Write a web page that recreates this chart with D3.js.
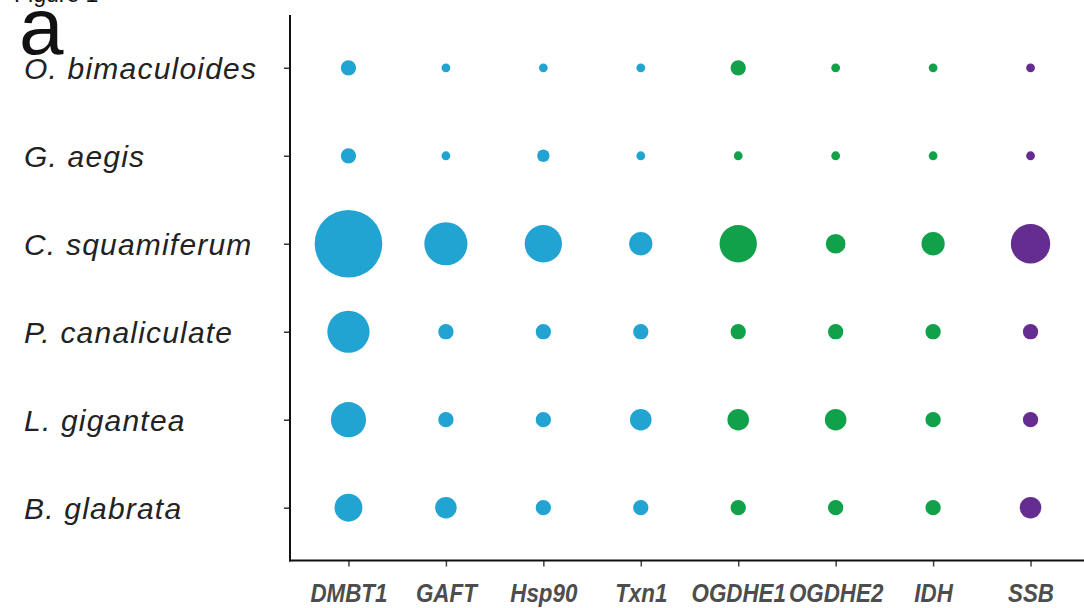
<!DOCTYPE html>
<html>
<head>
<meta charset="utf-8">
<script src="https://cdn.jsdelivr.net/npm/d3@7"></script>
<style>
  html, body { margin: 0; padding: 0; background: #fff; }
  svg { display: block; }
</style>
</head>
<body>
<svg id="chart" width="1084" height="608"></svg>
<script>
// Genes (columns) and species (rows)
const genes = ["DMBT1", "GAFT", "Hsp90", "Txn1", "OGDHE1", "OGDHE2", "IDH", "SSB"];
const geneGroup = ["blue", "blue", "blue", "blue", "green", "green", "green", "purple"];
const species = ["O. bimaculoides", "G. aegis", "C. squamiferum", "P. canaliculate", "L. gigantea", "B. glabrata"];

// Values per species, in gene order
const oBimaculoides  = [3, 1, 1, 1, 3, 1, 1, 1];
const gAegis         = [3, 1, 2, 1, 1, 1, 1, 1];
const cSquamiferum   = [59, 24, 18, 7, 18, 5, 7, 20];
const pCanaliculate  = [23, 3, 3, 3, 3, 3, 3, 3];
const lGigantea      = [16, 3, 3, 6, 6, 6, 3, 3];
const bGlabrata      = [10, 6, 3, 3, 3, 3, 3, 6];
const rows = [oBimaculoides, gAegis, cSquamiferum, pCanaliculate, lGigantea, bGlabrata];

const groupColor = { blue: "#22a4d2", green: "#10a14a", purple: "#652d90" };

const svg = d3.select("#chart");

const plot = { left: 290, right: 1089, top: 15, bottom: 560.5 };

const x = d3.scalePoint().domain(genes).range([plot.left, plot.right]).padding(0.6);
const y = d3.scalePoint().domain(species).range([plot.top, plot.bottom]).padding(0.6);
const r = d3.scaleSqrt().domain([0, 60]).range([0, 34.1]);

// Panel tag and figure heading
svg.append("text")
  .attr("x", 14).attr("y", 2)
  .attr("font-family", "Liberation Sans, Arial, sans-serif")
  .attr("font-size", 23)
  .attr("fill", "#111")
  .text("Figure 1");

svg.append("text")
  .attr("x", 19).attr("y", 54)
  .attr("font-family", "Liberation Sans, Arial, sans-serif")
  .attr("font-size", 80)
  .attr("fill", "#111")
  .text("a");

// Bubbles
const cells = [];
species.forEach((s, i) => {
  genes.forEach((g, j) => {
    cells.push({ species: s, gene: g, value: rows[i][j], color: groupColor[geneGroup[j]] });
  });
});

svg.append("g")
  .selectAll("circle")
  .data(cells)
  .join("circle")
  .attr("cx", d => x(d.gene))
  .attr("cy", d => y(d.species))
  .attr("r", d => r(d.value))
  .attr("fill", d => d.color);

// Left axis with species names set flush left
const yAxis = svg.append("g")
  .attr("transform", `translate(${plot.left},0)`)
  .call(d3.axisLeft(y).tickSize(6).tickSizeOuter(0));
yAxis.select(".domain").remove();
yAxis.selectAll(".tick line").attr("stroke", "#333").attr("stroke-width", 1.5);
yAxis.selectAll(".tick text")
  .attr("x", 24 - plot.left)
  .attr("dy", "0.36em")
  .attr("text-anchor", "start")
  .attr("font-family", "Liberation Sans, Arial, sans-serif")
  .attr("font-style", "italic")
  .attr("font-size", 30)
  .attr("letter-spacing", 1.2)
  .attr("fill", "#222");

// Bottom axis with gene names (narrow bold italic)
const xAxis = svg.append("g")
  .attr("transform", `translate(0,${plot.bottom})`)
  .call(d3.axisBottom(x).tickSize(6).tickPadding(17).tickSizeOuter(0));
xAxis.select(".domain").remove();
xAxis.selectAll(".tick line").attr("stroke", "#444").attr("stroke-width", 1.5);
xAxis.selectAll(".tick text")
  .attr("font-family", "Liberation Sans, Arial, sans-serif")
  .attr("font-style", "italic")
  .attr("font-weight", "bold")
  .attr("font-size", 26)
  .attr("transform", "scale(0.86,1)")
  .attr("fill", "#4d4d4d");

// Axis lines
svg.append("line")
  .attr("x1", plot.left).attr("x2", plot.left)
  .attr("y1", plot.top).attr("y2", plot.bottom + 1)
  .attr("stroke", "#111").attr("stroke-width", 2);
svg.append("line")
  .attr("x1", plot.left - 1).attr("x2", 1084)
  .attr("y1", plot.bottom).attr("y2", plot.bottom)
  .attr("stroke", "#111").attr("stroke-width", 2);
</script>
</body>
</html>
